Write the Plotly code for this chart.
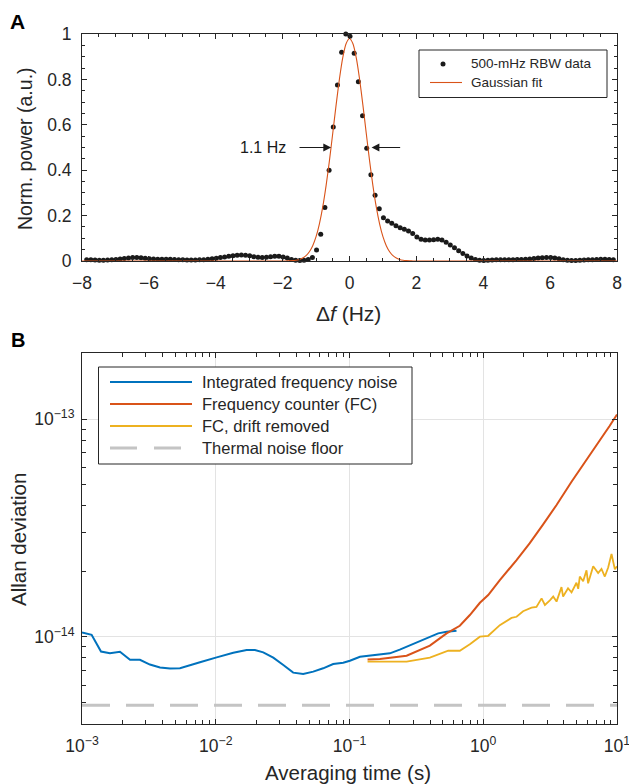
import plotly.graph_objects as go

W, H = 629, 784

# ---------------- Panel A data ----------------
freq_hz = [
    -7.86, -7.735, -7.61, -7.485, -7.36, -7.235, -7.11, -6.985, -6.86, -6.735,
    -6.61, -6.485, -6.36, -6.235, -6.11, -5.985, -5.86, -5.735, -5.61, -5.485,
    -5.36, -5.235, -5.11, -4.985, -4.86, -4.735, -4.61, -4.485, -4.36, -4.235,
    -4.11, -3.985, -3.86, -3.735, -3.61, -3.485, -3.36, -3.235, -3.11, -2.985,
    -2.86, -2.735, -2.61, -2.485, -2.36, -2.235, -2.11, -1.985, -1.86, -1.735,
    -1.61, -1.485, -1.36, -1.235, -1.11, -0.985, -0.86, -0.735, -0.61, -0.485,
    -0.36, -0.235, -0.11, 0.015, 0.14, 0.265, 0.39, 0.515, 0.64, 0.765,
    0.89, 1.015, 1.14, 1.265, 1.39, 1.515, 1.64, 1.765, 1.89, 2.015,
    2.14, 2.265, 2.39, 2.515, 2.64, 2.765, 2.89, 3.015, 3.14, 3.265,
    3.39, 3.515, 3.64, 3.765, 3.89, 4.015, 4.14, 4.265, 4.39, 4.515,
    4.64, 4.765, 4.89, 5.015, 5.14, 5.265, 5.39, 5.515, 5.64, 5.765,
    5.89, 6.015, 6.14, 6.265, 6.39, 6.515, 6.64, 6.765, 6.89, 7.015,
    7.14, 7.265, 7.39, 7.515, 7.64, 7.765, 7.89,
]
power_norm = [
    0.006, 0.005, 0.004, 0.003, 0.003, 0.004, 0.005, 0.007, 0.009, 0.011,
    0.013, 0.015, 0.015, 0.014, 0.012, 0.010, 0.009, 0.008, 0.008, 0.008,
    0.008, 0.007, 0.006, 0.005, 0.004, 0.004, 0.004, 0.005, 0.006, 0.008,
    0.010, 0.012, 0.015, 0.018, 0.021, 0.023, 0.025, 0.026, 0.025, 0.023,
    0.019, 0.016, 0.015, 0.016, 0.019, 0.021, 0.021, 0.018, 0.013, 0.007,
    0.003, 0.002, 0.003, 0.007, 0.015, 0.048, 0.118, 0.236, 0.40, 0.59,
    0.775, 0.92, 1.0, 0.99, 0.915, 0.79, 0.64, 0.497, 0.38, 0.29,
    0.23, 0.19, 0.176, 0.166, 0.155, 0.147, 0.14, 0.132, 0.121, 0.106,
    0.096, 0.092, 0.092, 0.094, 0.096, 0.093, 0.083, 0.071, 0.058, 0.045,
    0.033, 0.022, 0.013, 0.007, 0.003, 0.002, 0.003, 0.004, 0.005, 0.006,
    0.006, 0.006, 0.006, 0.007, 0.007, 0.008, 0.009, 0.011, 0.013, 0.014,
    0.015, 0.015, 0.013, 0.010, 0.006, 0.003, 0.002, 0.002, 0.003, 0.004,
    0.005, 0.006, 0.007, 0.008, 0.008, 0.007, 0.006,
]
fit_hz = [-8.0, -2.0, -1.9, -1.8, -1.7, -1.6, -1.5, -1.4, -1.3, -1.2, -1.1, -1.0,
          -0.9, -0.8, -0.7, -0.6, -0.5, -0.4, -0.3, -0.2, -0.1, 0.0,
          0.1, 0.2, 0.3, 0.4, 0.5, 0.6, 0.7, 0.8, 0.9, 1.0,
          1.1, 1.2, 1.3, 1.4, 1.5, 1.6, 1.7, 1.8, 1.9, 2.0, 8.0]
fit_power = [0.0, 0.0001, 0.0003, 0.0008, 0.0016, 0.0034, 0.0068, 0.0129, 0.0234, 0.0406, 0.0675, 0.107,
             0.164, 0.238, 0.332, 0.442, 0.564, 0.688, 0.803, 0.897, 0.958, 0.98,
             0.958, 0.897, 0.803, 0.688, 0.564, 0.442, 0.332, 0.238, 0.164, 0.107,
             0.0675, 0.0406, 0.0234, 0.0129, 0.0068, 0.0034, 0.0016, 0.0008, 0.0003, 0.0001, 0.0]
a_xticks = [-8, -6, -4, -2, 0, 2, 4, 6, 8]
a_xticklabels = ["−8", "−6", "−4", "−2", "0", "2", "4", "6", "8"]
a_yticks = [0, 0.2, 0.4, 0.6, 0.8, 1.0]
a_yticklabels = ["0", "0.2", "0.4", "0.6", "0.8", "1"]
fwhm_label = "1.1 Hz"
fwhm_level = 0.5
fwhm_left_arrow = [-1.54, -0.55]   # tail, head (Hz)
fwhm_right_arrow = [1.56, 0.66]
fwhm_text_x = -1.85

# ---------------- Panel B data ----------------
ifn_tau = [0.001, 0.00118, 0.001387, 0.001618, 0.001923, 0.002286, 0.00271, 0.00322,
           0.00383, 0.00455, 0.0054, 0.00641, 0.00762, 0.01016, 0.01352, 0.01702,
           0.01963, 0.02265, 0.02692, 0.03199, 0.03793, 0.04508, 0.05358, 0.06353,
           0.07551, 0.08974, 0.1007, 0.1197, 0.1419, 0.1687, 0.2004, 0.2377,
           0.2992, 0.3767, 0.4603, 0.5321, 0.631]
ifn_adev_e14 = [1.047, 1.02, 0.855, 0.840, 0.853, 0.784, 0.784, 0.745,
                0.722, 0.714, 0.717, 0.742, 0.763, 0.804, 0.844, 0.869,
                0.869, 0.848, 0.801, 0.741, 0.684, 0.675, 0.691, 0.716,
                0.749, 0.760, 0.776, 0.809, 0.818, 0.833, 0.839, 0.872,
                0.926, 0.983, 1.036, 1.054, 1.066]
fc_tau = [0.1365, 0.1687, 0.2673, 0.399, 0.532, 0.668, 0.794, 0.944, 1.089, 1.33,
          1.774, 2.228, 2.805, 3.532, 4.571, 5.48, 6.4, 7.74, 8.8, 10.0]
fc_adev_e14 = [0.786, 0.790, 0.818, 0.910, 1.036, 1.123, 1.258, 1.432, 1.554, 1.82,
               2.25, 2.69, 3.28, 4.03, 5.15, 6.05, 7.0, 8.3, 9.3, 10.5]
fcd_tau = [0.1365, 0.2673, 0.399, 0.547, 0.668, 0.794, 0.944, 1.089, 1.33, 1.626,
           1.774, 1.986, 2.296, 2.5, 2.729, 2.891, 3.148, 3.334, 3.532, 3.846,
           3.954, 4.305, 4.571, 4.977, 5.129, 5.272, 5.585, 5.916, 6.081, 6.637,
           7.228, 7.656, 8.11, 8.59, 9.1, 9.64, 10.0]
fcd_adev_e14 = [0.768, 0.768, 0.801, 0.862, 0.862, 0.923, 1.0, 1.01, 1.13, 1.22,
                1.235, 1.31, 1.36, 1.37, 1.50, 1.40, 1.47, 1.53, 1.45, 1.69,
                1.53, 1.67, 1.60, 1.77, 1.66, 1.89, 1.80, 2.02, 1.76, 2.11,
                1.96, 2.05, 1.89, 2.08, 2.40, 2.04, 2.11]
floor_tau = [0.001, 10.0]
floor_adev = [4.84e-15, 4.84e-15]
b_xticks = [1e-3, 1e-2, 1e-1, 1e0, 1e1]
b_xticklabels = ["10<sup>−3</sup>", "10<sup>−2</sup>", "10<sup>−1</sup>", "10<sup>0</sup>", "10<sup>1</sup>"]
b_yticks = [1e-14, 1e-13]
b_yticklabels = ["10<sup>−14</sup>", "10<sup>−13</sup>"]
series_names = ["Integrated frequency noise", "Frequency counter (FC)",
                "FC, drift removed", "Thermal noise floor"]

BLUE, RED, YEL, GRAY = "#0072BD", "#D95319", "#EDB120", "#C4C4C4"
AX = "#262626"
FONT = "Liberation Sans, Arial, sans-serif"


def px(x):
    return x / W


def py(y):
    return 1 - y / H


fig = go.Figure()

fig.add_trace(go.Scatter(x=freq_hz, y=power_norm, mode="markers", name="500-mHz RBW data",
                         marker=dict(size=5, color="#1a1a1a"), cliponaxis=False,
                         xaxis="x", yaxis="y", showlegend=False))
fig.add_trace(go.Scatter(x=fit_hz, y=fit_power, mode="lines", name="Gaussian fit",
                         line=dict(color=RED, width=1.1, shape="spline", smoothing=0.6),
                         xaxis="x", yaxis="y", showlegend=False))

fig.add_trace(go.Scatter(x=floor_tau, y=floor_adev, mode="lines", name=series_names[3],
                         line=dict(color=GRAY, width=3, dash="28px,16px"),
                         xaxis="x2", yaxis="y2", showlegend=False))
fig.add_trace(go.Scatter(x=ifn_tau, y=[v * 1e-14 for v in ifn_adev_e14], mode="lines",
                         name=series_names[0], line=dict(color=BLUE, width=2),
                         xaxis="x2", yaxis="y2", showlegend=False))
fig.add_trace(go.Scatter(x=fc_tau, y=[v * 1e-14 for v in fc_adev_e14], mode="lines",
                         name=series_names[1], line=dict(color=RED, width=2),
                         xaxis="x2", yaxis="y2", showlegend=False))
fig.add_trace(go.Scatter(x=fcd_tau, y=[v * 1e-14 for v in fcd_adev_e14], mode="lines",
                         name=series_names[2], line=dict(color=YEL, width=1.8),
                         xaxis="x2", yaxis="y2", showlegend=False))

common = dict(showline=True, linecolor=AX, linewidth=1, mirror="allticks", ticks="inside",
              ticklen=5, tickwidth=1, tickcolor=AX, zeroline=False, automargin=False,
              ticklabeloverflow="allow",
              tickfont=dict(size=17.5, color=AX, family=FONT))

fig.update_layout(
    width=W, height=H, margin=dict(l=0, r=0, t=0, b=0, pad=0, autoexpand=False),
    paper_bgcolor="white", plot_bgcolor="white",
    font=dict(family=FONT, color=AX),
    xaxis=dict(domain=[px(82), px(617)], range=[-8, 8], anchor="y",
               tickmode="array", tickvals=a_xticks, ticktext=a_xticklabels,
               minor=dict(dtick=0.5, tick0=0, ticks="inside", ticklen=3, tickcolor=AX),
               showgrid=False, ticklabelstandoff=6, **common),
    yaxis=dict(domain=[py(261), py(34)], range=[0, 1], anchor="x",
               tickmode="array", tickvals=a_yticks, ticktext=a_yticklabels,
               minor=dict(dtick=0.05, tick0=0, ticks="inside", ticklen=3, tickcolor=AX),
               showgrid=False, ticklabelstandoff=6, **common),
    xaxis2=dict(type="log", domain=[px(82), px(617)], range=[-3, 1], anchor="y2",
                tickmode="array", tickvals=b_xticks, ticktext=b_xticklabels,
                minor=dict(tickmode="linear", dtick="D1", ticks="inside", ticklen=4,
                           tickcolor=AX, showgrid=False),
                showgrid=True, gridcolor="#E3E3E3", gridwidth=1, ticklabelstandoff=6, **common),
    yaxis2=dict(type="log", domain=[py(724), py(352.7)], range=[-14.401, -12.695], anchor="x2",
                tickmode="array", tickvals=b_yticks, ticktext=b_yticklabels,
                minor=dict(tickmode="linear", dtick="D1", ticks="inside", ticklen=4,
                           tickcolor=AX, showgrid=False),
                showgrid=True, gridcolor="#E3E3E3", gridwidth=1, ticklabelstandoff=3, **common),
)

shapes = []
ann = []

# Panel A legend
shapes.append(dict(type="rect", xref="paper", yref="paper", x0=px(419), x1=px(607),
                   y0=py(97.5), y1=py(50), line=dict(color=AX, width=1), fillcolor="white",
                   layer="above"))
shapes.append(dict(type="circle", xref="paper", yref="paper", xsizemode="pixel", ysizemode="pixel",
                   xanchor=px(443), yanchor=py(64), x0=-2.5, x1=2.5, y0=-2.5, y1=2.5,
                   fillcolor="#1a1a1a", line=dict(width=0), layer="above"))
shapes.append(dict(type="line", xref="paper", yref="paper", x0=px(430), x1=px(462),
                   y0=py(82.5), y1=py(82.5), line=dict(color=RED, width=1.1), layer="above"))
ann.append(dict(xref="paper", yref="paper", x=px(469), y=py(64), text="500-mHz RBW data",
                xanchor="left", yanchor="middle", showarrow=False, font=dict(size=13.5, color=AX)))
ann.append(dict(xref="paper", yref="paper", x=px(469), y=py(82.5), text="Gaussian fit",
                xanchor="left", yanchor="middle", showarrow=False, font=dict(size=13.5, color=AX)))

# Panel B legend
shapes.append(dict(type="rect", xref="paper", yref="paper", x0=px(98.5), x1=px(412),
                   y0=py(464), y1=py(367), line=dict(color=AX, width=1), fillcolor="white",
                   layer="above"))
legend_rows = [382, 404, 426, 448]
legend_styles = [dict(color=BLUE, width=2), dict(color=RED, width=2), dict(color=YEL, width=2),
                 dict(color=GRAY, width=3, dash="27px,17px")]
for yy, sty, name in zip(legend_rows, legend_styles, series_names):
    shapes.append(dict(type="line", xref="paper", yref="paper", x0=px(110), x1=px(192),
                       y0=py(yy), y1=py(yy), line=sty, layer="above"))
    ann.append(dict(xref="paper", yref="paper", x=px(200), y=py(yy), text=name,
                    xanchor="left", yanchor="middle", showarrow=False,
                    font=dict(size=16.5, color=AX)))

# FWHM arrows and label
for tail, head in (fwhm_left_arrow, fwhm_right_arrow):
    ann.append(dict(xref="x", yref="y", axref="x", ayref="y", x=head, y=fwhm_level,
                    ax=tail, ay=fwhm_level, text="", showarrow=True, arrowhead=2,
                    arrowsize=1.3, arrowwidth=1.2, arrowcolor="#1a1a1a"))
ann.append(dict(xref="x", yref="y", x=fwhm_text_x, y=fwhm_level, text=fwhm_label,
                xanchor="right", yanchor="middle", showarrow=False,
                font=dict(size=16, color="#1a1a1a")))

# Axis titles
ann.append(dict(xref="paper", yref="paper", x=px(349), y=py(313), text="Δ<i>f</i> (Hz)",
                xanchor="center", yanchor="middle", showarrow=False, font=dict(size=21, color=AX)))
ann.append(dict(xref="paper", yref="paper", x=px(25), y=py(149), text="Norm. power (a.u.)",
                textangle=-90, xanchor="center", yanchor="middle", showarrow=False,
                font=dict(size=19.5, color=AX)))
ann.append(dict(xref="paper", yref="paper", x=px(348), y=py(772), text="Averaging time (s)",
                xanchor="center", yanchor="middle", showarrow=False, font=dict(size=20.5, color=AX)))
ann.append(dict(xref="paper", yref="paper", x=px(18), y=py(540), text="Allan deviation",
                textangle=-90, xanchor="center", yanchor="middle", showarrow=False,
                font=dict(size=20.5, color=AX)))

# Panel labels
ann.append(dict(xref="paper", yref="paper", x=px(8), y=py(21), text="<b>A</b>",
                xanchor="left", yanchor="middle", showarrow=False, font=dict(size=21, color="black")))
ann.append(dict(xref="paper", yref="paper", x=px(9), y=py(340), text="<b>B</b>",
                xanchor="left", yanchor="middle", showarrow=False, font=dict(size=20, color="black")))

fig.update_layout(shapes=shapes, annotations=ann)

fig.write_html("out.html", config={"displayModeBar": False},
               post_script="document.body.style.margin='0';document.body.style.padding='0';")
